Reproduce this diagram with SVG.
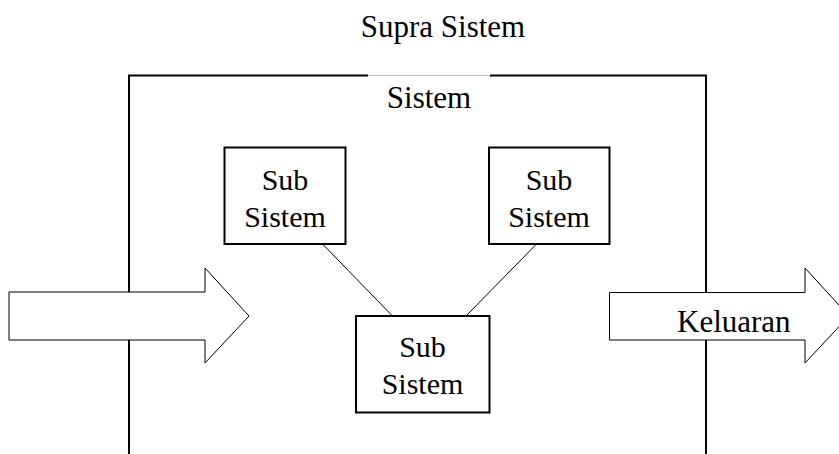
<svg xmlns="http://www.w3.org/2000/svg" width="839" height="454" viewBox="0 0 839 454">
<style>
text{font-family:"Liberation Serif","Times New Roman",serif;fill:#000}
.lbl{font-size:31px}
.sub{font-size:30px;text-anchor:middle}
.box{fill:#fff;stroke:#000;stroke-width:2}
.arrow{fill:#fff;stroke:#000;stroke-width:1}
.conn{stroke:#000;stroke-width:1;fill:none}
</style>
<rect width="839" height="454" fill="#fff"/>
<g id="supra">
<text class="lbl" x="443" y="37" text-anchor="middle">Supra Sistem</text>
</g>
<g id="sistem">
<path d="M129,454 V75.5 H368 M490,75.5 H706 V454" fill="none" stroke="#000" stroke-width="2"/>
<line x1="368" y1="75.5" x2="490" y2="75.5" stroke="#bbb" stroke-width="1"/>
<text class="lbl" x="429" y="108" text-anchor="middle">Sistem</text>
</g>
<g id="input-arrow">
<polygon class="arrow" points="9,292 205,292 205,268 249,316 205,363 205,340 9,340"/>
</g>
<g id="output-arrow">
<polygon class="arrow" points="609.5,292.5 805,292.5 805,268 849,316 805,363 805,340 609.5,340"/>
<text class="lbl" x="677" y="332">Keluaran</text>
</g>
<g id="connectors">
<line class="conn" x1="322.5" y1="244" x2="392.5" y2="316"/>
<line class="conn" x1="536.5" y1="244" x2="466" y2="316"/>
</g>
<g id="sub1">
<rect class="box" x="224.5" y="147.5" width="121" height="96.5"/>
<text class="sub" x="285" y="190">Sub</text>
<text class="sub" x="285" y="227">Sistem</text>
</g>
<g id="sub2">
<rect class="box" x="489" y="147.5" width="120.5" height="96.5"/>
<text class="sub" x="549" y="190">Sub</text>
<text class="sub" x="549" y="227">Sistem</text>
</g>
<g id="sub3">
<rect class="box" x="356" y="316" width="133.5" height="96.5"/>
<text class="sub" x="422.5" y="357">Sub</text>
<text class="sub" x="422.5" y="394">Sistem</text>
</g>
</svg>
